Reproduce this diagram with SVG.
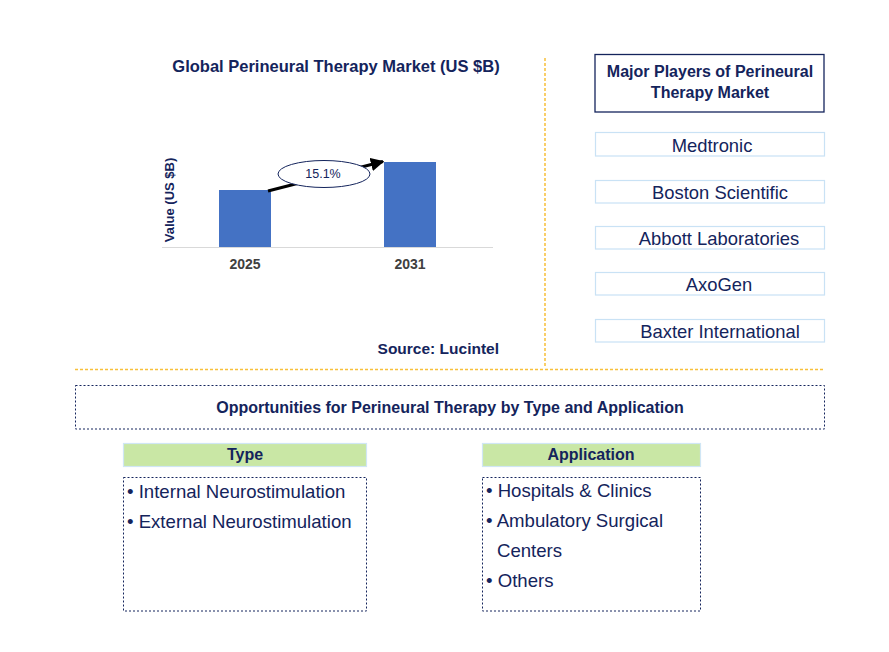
<svg xmlns="http://www.w3.org/2000/svg" width="889" height="652" viewBox="0 0 889 652">
<defs>
<style>
text{font-family:"Liberation Sans",Arial,sans-serif;fill:#14245C}
.b{font-weight:bold}
.player{fill:#fff;stroke:#C9E2F5;stroke-width:1.2}
.dot{fill:#fff;stroke:#14245C;stroke-width:1;stroke-dasharray:2,2}
.hdr{fill:#C9E7A5;stroke:#D0E6F5;stroke-width:1.2}
.sep{stroke:#F8C03A;stroke-width:1.5;stroke-dasharray:3,2;fill:none}
.bar{fill:#4472C4}
.item{font-size:18.6px}
.pl{font-size:18.4px}
</style>
<marker id="ah" viewBox="0 0 10 10" refX="9" refY="5" markerWidth="4.5" markerHeight="4.5" orient="auto" markerUnits="strokeWidth">
<path d="M0,0 L10,5 L0,10 z" fill="#000"/>
</marker>
</defs>
<rect width="889" height="652" fill="#fff"/>

<g id="separators">
<line class="sep" x1="545" y1="58" x2="545" y2="368"/>
<line class="sep" x1="75" y1="369.5" x2="825" y2="369.5"/>
</g>

<g id="chart">
<text class="b" x="336" y="72" font-size="16.5" text-anchor="middle">Global Perineural Therapy Market (US $B)</text>
<text class="b" x="174" y="200" font-size="13" text-anchor="middle" transform="rotate(-90 174 200)">Value (US $B)</text>
<rect class="bar" x="219" y="190" width="52" height="57"/>
<rect class="bar" x="384" y="162" width="52" height="85"/>
<line x1="162" y1="247.5" x2="493" y2="247.5" stroke="#D9D9D9" stroke-width="1.2"/>
<text class="b" x="245" y="269" font-size="14" text-anchor="middle" style="fill:#404040">2025</text>
<text class="b" x="410" y="269" font-size="14" text-anchor="middle" style="fill:#404040">2031</text>
<text class="b" x="499" y="354" font-size="15.5" text-anchor="end">Source: Lucintel</text>
</g>

<g id="connectors">
<line x1="268" y1="191" x2="383" y2="161.5" stroke="#000" stroke-width="3" marker-end="url(#ah)"/>
</g>

<g id="cagr">
<ellipse cx="324" cy="174" rx="46" ry="13.5" fill="#fff" stroke="#14245C" stroke-width="1"/>
<text x="323" y="178" font-size="12.5" text-anchor="middle">15.1%</text>
</g>

<g id="players-header">
<rect x="595" y="54.5" width="229" height="57.5" fill="#fff" stroke="#14245C" stroke-width="1.3"/>
<text class="b" x="710" y="77" font-size="16" text-anchor="middle">Major Players of Perineural</text>
<text class="b" x="710" y="98" font-size="16" text-anchor="middle">Therapy Market</text>
</g>
<g id="p-medtronic">
<rect class="player" x="595.5" y="132.5" width="229" height="23.5"/>
<text class="pl" x="712" y="152" text-anchor="middle">Medtronic</text>
</g>
<g id="p-boston">
<rect class="player" x="595.5" y="180.5" width="229" height="22.5"/>
<text class="pl" x="720" y="199" text-anchor="middle">Boston Scientific</text>
</g>
<g id="p-abbott">
<rect class="player" x="595.5" y="226.5" width="229" height="22.5"/>
<text class="pl" x="719" y="245" text-anchor="middle">Abbott Laboratories</text>
</g>
<g id="p-axogen">
<rect class="player" x="595.5" y="272.5" width="229" height="22.5"/>
<text class="pl" x="719" y="291" text-anchor="middle">AxoGen</text>
</g>
<g id="p-baxter">
<rect class="player" x="595.5" y="319.5" width="229" height="22.5"/>
<text class="pl" x="720" y="338" text-anchor="middle">Baxter International</text>
</g>

<g id="opportunities">
<rect class="dot" x="75.5" y="385.5" width="749" height="43.5"/>
<text class="b" x="450" y="413" font-size="16" text-anchor="middle">Opportunities for Perineural Therapy by Type and Application</text>
</g>

<g id="type-header">
<rect class="hdr" x="123.5" y="443.5" width="243" height="23"/>
<text class="b" x="245" y="460" font-size="16" text-anchor="middle">Type</text>
</g>
<g id="type-list">
<rect class="dot" x="123.5" y="477.5" width="243" height="133.5"/>
<text class="item" x="127" y="498">• Internal Neurostimulation</text>
<text class="item" x="127" y="528">• External Neurostimulation</text>
</g>

<g id="application-header">
<rect class="hdr" x="482.5" y="443.5" width="218" height="23"/>
<text class="b" x="591" y="460" font-size="16" text-anchor="middle">Application</text>
</g>
<g id="application-list">
<rect class="dot" x="482.5" y="477.5" width="218" height="133.5"/>
<text class="item" x="486" y="497">• Hospitals &amp; Clinics</text>
<text class="item" x="486" y="527">• Ambulatory Surgical</text>
<text class="item" x="497" y="557">Centers</text>
<text class="item" x="486" y="587">• Others</text>
</g>
</svg>
